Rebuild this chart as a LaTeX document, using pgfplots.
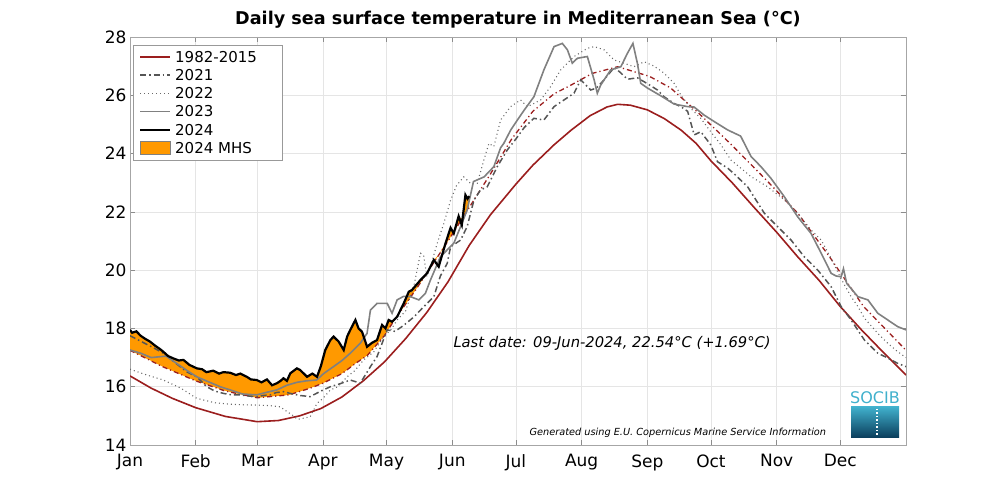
\documentclass[border=0pt]{standalone}
\usepackage{fontspec}
\setmainfont{DejaVu Sans}
\setsansfont{DejaVu Sans}
\usepackage{pgfplots}
\usepackage{pgfplotstable}
\pgfplotsset{compat=1.18}
\usepgfplotslibrary{fillbetween}
\definecolor{climc}{RGB}{155,30,30}
\definecolor{c21}{RGB}{85,85,85}
\definecolor{c22}{RGB}{105,105,105}
\definecolor{c23}{RGB}{128,128,128}
\definecolor{mhs}{RGB}{255,153,0}
\definecolor{socib}{RGB}{64,176,204}
\definecolor{socibdark}{RGB}{10,60,90}
\tikzset{
  climstyle/.style={draw=climc, line width=1.6pt, solid},
  thrstyle/.style={draw=climc, line width=1.3pt, dash pattern=on 5pt off 3pt on 1.2pt off 3pt},
  s21/.style={draw=c21, line width=1.5pt, dash pattern=on 6pt off 3pt on 1.5pt off 3pt},
  s22/.style={draw=c22, line width=1.1pt, dash pattern=on 1pt off 3pt},
  s23/.style={draw=c23, line width=1.6pt, solid},
  s24/.style={draw=black, line width=2.2pt, solid},
}

\pgfplotstableread{
d T
0 16.37
10 15.95
20 15.6
31 15.28
45 14.98
60 14.80
70 14.84
80 15.0
90 15.25
100 15.65
110 16.2
120 16.85
130 17.65
140 18.55
150 19.6
160 20.85
170 21.9
182 22.95
190 23.6
200 24.3
208 24.8
217 25.3
225 25.6
230 25.69
236 25.66
244 25.5
252 25.2
260 24.8
267 24.35
274 23.75
284 23.0
295 22.1
305 21.3
315 20.45
325 19.65
335 18.75
345 17.95
355 17.2
366 16.4
}\climtab

\pgfplotstableread{
d T
0 17.25
15 16.7
31 16.2
45 15.85
60 15.62
75 15.72
85 15.95
91 16.12
100 16.45
106 16.78
112 17.08
120 17.75
125 18.32
135 19.35
150 21.0
160 22.15
170 23.3
180 24.5
190 25.45
200 26.05
208 26.35
218 26.75
230 26.98
245 26.65
255 26.25
268 25.4
283 24.35
300 23.1
315 21.95
330 20.45
346 18.75
356 18.0
366 17.25
}\thrtab

\pgfplotstableread{
d T up thr
0 17.95 17.95 17.25
1 17.85 17.85 17.21
3 17.9 17.9 17.14
5 17.75 17.75 17.07
7 17.65 17.65 16.99
9.4 17.55 17.55 16.91
12 17.4 17.4 16.81
14 17.3 17.3 16.74
15.7 17.2 17.2 16.68
18 17.05 17.05 16.61
20.5 16.97 16.97 16.53
23 16.9 16.9 16.45
25.2 16.92 16.92 16.38
28 16.75 16.75 16.29
31.5 16.63 16.63 16.19
34 16.6 16.6 16.13
36 16.5 16.5 16.08
39.3 16.55 16.55 16.0
42 16.45 16.45 15.93
44 16.5 16.5 15.88
47.2 16.48 16.48 15.82
50 16.4 16.4 15.77
52 16.45 16.45 15.74
55.1 16.34 16.34 15.70
57 16.25 16.25 15.67
59.8 16.23 16.23 15.62
62 16.15 16.15 15.63
64.6 16.25 16.25 15.65
67 16.05 16.05 15.67
69.3 16.12 16.12 15.68
71 16.2 16.2 15.69
72.4 16.29 16.29 15.70
74 16.2 16.2 15.71
75.6 16.46 16.46 15.73
78.7 16.63 16.63 15.81
80.3 16.57 16.57 15.84
83.5 16.34 16.34 15.92
86 16.45 16.45 15.98
88.2 16.34 16.34 16.04
90 16.7 16.7 16.09
92.1 17.26 17.26 16.16
94.5 17.6 17.6 16.25
96 17.72 17.72 16.30
98.4 17.55 17.55 16.39
100.8 17.26 17.26 16.49
102.4 17.72 17.72 16.58
103.9 17.95 17.95 16.66
106.3 18.29 18.29 16.80
107.8 18.0 18.0 16.87
109.4 17.89 17.89 16.95
111 17.55 17.55 17.03
111.8 17.37 17.37 17.07
114 17.5 17.5 17.25
116.5 17.6 17.6 17.46
118.9 18.12 18.12 17.66
120.5 18.0 18.0 17.81
122 18.29 18.29 17.98
123.6 18.23 18.23 18.16
126 18.4 18.42 18.42
129.1 18.86 18.86 18.74
131.5 19.26 19.26 18.99
133 19.32 19.32 19.14
137 19.66 19.66 19.57
140.1 19.89 19.91 19.91
143.3 20.35 20.35 20.26
145.6 20.12 20.52 20.52
148.8 20.92 20.92 20.87
151.2 21.45 21.45 21.14
152.7 21.26 21.31 21.31
155 21.85 21.85 21.58
156.5 21.55 21.75 21.75
158.2 22.58 22.58 21.94
159.2 22.45 22.45 22.06
160 22.54 22.54 22.15
}\yddtab

\pgfplotstableread{
d T
0 17.26
5 17.15
10 17.0
17 17.05
22 16.8
27 16.55
31.5 16.34
36 16.2
42.5 16.0
47.2 15.89
53 15.75
59.8 15.72
64 15.8
69.3 15.89
74 16.05
78.7 16.15
83 16.2
88 16.23
91.3 16.45
96 16.69
100 16.9
103.9 17.15
108.6 17.49
111.8 17.83
113.4 18.63
116.5 18.86
121.3 18.86
123.6 18.52
126 18.98
129 19.1
132.3 19.09
136.2 18.98
139.3 19.2
141.7 19.66
146.4 20.46
152.7 20.92
155.9 21.49
159 22.06
162 23.04
167 23.2
171.6 23.55
174.8 24.2
176.3 24.35
179.5 24.8
182.7 25.15
186 25.5
190.5 25.95
195.2 26.87
200 27.67
203.9 27.78
206.3 27.56
208.6 27.1
211 27.27
215.7 27.33
218.9 26.53
220.4 26.07
222 26.35
226.7 26.87
231.5 26.98
234.6 27.44
237.2 27.78
239.3 27.1
240.9 26.41
244 26.25
250.4 25.98
256.6 25.7
263 25.61
266 25.6
270.8 25.32
275.5 25.1
281.9 24.81
288 24.6
292.9 23.9
297.6 23.55
302.3 23.15
308.6 22.52
314.9 21.83
321.2 21.26
326 20.58
330.7 19.89
333 19.8
335.4 19.77
336.5 20.05
338 19.55
343.3 19.09
348 18.98
352.7 18.52
357.4 18.29
362.1 18.06
366 17.95
}\ycctab

\pgfplotstableread{
d T
0 16.6
8 16.4
15.7 16.23
24 15.95
31.5 15.6
40 15.45
47.2 15.4
53 15.38
59.8 15.37
66 15.35
70.9 15.31
74 15.15
77.1 15.0
79 14.88
82 14.92
85 14.97
88.2 15.43
91 15.6
94.5 15.89
98 16.0
102.4 16.34
106 16.55
110.2 16.92
115 17.2
119.6 17.72
123 17.95
126 18.29
130 18.6
134 19.5
137 20.58
138.5 20.5
140 19.78
142 20.2
144.9 20.92
148 21.6
151.2 22.4
154 22.9
157.4 23.2
160.6 22.98
163.8 22.98
166.9 23.78
169.3 24.35
171.6 24.24
174.8 25.15
179.5 25.61
184.2 25.84
187.4 25.61
190 25.7
193.7 25.84
198.4 26.3
203.1 26.87
209.4 27.33
215.7 27.61
218.9 27.67
223.6 27.56
228.3 27.21
233 27.1
237.7 26.98
242.5 27.15
247.2 27.0
251.9 26.76
256.6 26.41
259.8 26.01
264.5 25.55
269.2 25.21
273.9 24.75
278.7 24.3
283.4 23.78
292.9 23.21
300.7 22.86
308.6 22.41
314.9 21.95
321.2 21.38
326 21.03
330.7 20.4
335.4 19.7
340.1 19.09
343.3 18.75
346.4 18.35
352.7 17.83
357.4 17.49
362.1 17.2
366 17.0
}\ybbtab

\pgfplotstableread{
d T
0 17.75
4 17.6
8 17.45
12 17.3
15.7 17.15
20 16.9
23.6 16.69
27 16.5
31.5 16.34
36.2 16.0
40 15.85
44.1 15.77
48 15.72
52 15.72
56 15.68
59.8 15.66
63 15.7
66.1 15.72
69 15.8
72.4 15.83
75.6 15.77
80 15.7
85 15.66
90 15.85
94.5 16.0
99 16.1
103.9 16.23
108.6 16.12
113.4 16.69
116.5 17.03
121.3 17.95
125 17.9
129 18.1
134 18.4
138.6 18.75
143.3 19.09
146.4 19.8
149.6 20.23
151.2 20.8
155.9 21.03
159 21.49
162.2 22.4
165.3 22.75
168.5 22.86
173.2 23.55
177.9 24.12
182 24.5
186 24.9
190.5 25.21
195.2 25.15
200 25.61
204.7 25.84
209.4 26.07
212.6 26.53
217.3 26.18
220 26.25
223.6 26.53
228.3 26.95
231 26.8
234.6 26.55
239.3 26.6
244 26.4
248.8 26.18
251.9 25.95
256.6 25.72
260 25.6
263 25.45
266.1 24.64
269.2 24.75
273.9 24.3
277.1 23.72
281.9 23.5
285 23.3
291.3 22.86
299.2 21.95
305.5 21.49
311.8 21.03
318 20.46
324.4 20.0
330.7 19.43
335.4 18.75
340.1 18.29
346.4 17.6
352.7 17.15
357 17.0
362.1 16.8
366 16.69
}\yaatab

\begin{document}
\begin{tikzpicture}
\begin{axis}[
  at={(130pt,55pt)}, anchor=south west,
  scale only axis, width=776pt, height=408pt,
  xmin=0, xmax=366, ymin=14, ymax=28,
  xtick={0,31,60,91,121,152,182,213,244,274,305,335},
  xticklabels={Jan,Feb,Mar,Apr,May,Jun,Jul,Aug,Sep,Oct,Nov,Dec},
  ytick={14,16,18,20,22,24,26,28},
  grid=major,
  major grid style={draw=black!10, line width=0.6pt},
  axis line style={draw=black!35, line width=0.8pt},
  tick style={draw=black!45, line width=0.6pt},
  major tick length=5pt,
  tick label style={font=\fontsize{17}{20}\selectfont},
  xticklabel style={yshift=-6pt},
  /pgf/number format/assume math mode=true,
]
\addplot[name path=U, draw=none, forget plot] table[x=d,y=up]{\yddtab};
\addplot[name path=L, draw=none, forget plot] table[x=d,y=thr]{\yddtab};
\addplot[fill=mhs, draw=none, forget plot] fill between[of=U and L];
\addplot[thrstyle, forget plot] table[x=d,y=T]{\thrtab};
\addplot[climstyle, forget plot] table[x=d,y=T]{\climtab};
\addplot[s21, forget plot] table[x=d,y=T]{\yaatab};
\addplot[s22, forget plot] table[x=d,y=T]{\ybbtab};
\addplot[s23, forget plot] table[x=d,y=T]{\ycctab};
\addplot[s24, forget plot] table[x=d,y=T]{\yddtab};
\end{axis}
% legend
\draw[draw=black!40, fill=white, line width=0.8pt] (133pt,455pt) rectangle (282pt,340pt);
\draw[climstyle] (140pt,443pt) -- (170pt,443pt);
\draw[s21] (140pt,424.8pt) -- (170pt,424.8pt);
\draw[s22] (140pt,406.6pt) -- (170pt,406.6pt);
\draw[s23] (140pt,388.4pt) -- (170pt,388.4pt);
\draw[s24] (140pt,370.2pt) -- (170pt,370.2pt);
\draw[fill=mhs, draw=black!50, line width=0.8pt] (140pt,345.5pt) rectangle (170pt,358.5pt);
\begin{scope}[every node/.style={anchor=base west, inner sep=0pt, font=\fontsize{15}{17.5}\selectfont}]
\node at (175pt,437.6pt) {1982-2015};
\node at (175pt,419.4pt) {2021};
\node at (175pt,401.2pt) {2022};
\node at (175pt,383.0pt) {2023};
\node at (175pt,364.8pt) {2024};
\node at (175pt,346.6pt) {2024 MHS};
\end{scope}
\node[font=\bfseries\fontsize{17.6}{20}\selectfont] at (518pt,480pt) {Daily sea surface temperature in Mediterranean Sea (°C)};
\node[anchor=west, font=\itshape\fontsize{14.7}{17}\selectfont] at (450pt,157pt) {Last date: 09-Jun-2024, 22.54°C (+1.69°C)};
\node[anchor=west, font=\itshape\fontsize{9.75}{11}\selectfont] at (526pt,67pt) {Generated using E.U. Copernicus Marine Service Information};
\node[text=socib, font=\fontsize{16}{16}\selectfont, inner sep=0pt] at (875pt,102pt) {SOCIB};
\shade[top color=socib, bottom color=socibdark] (851pt,62pt) rectangle (899pt,93pt);
\draw[white, line width=1.2pt, dash pattern=on 1.5pt off 2pt] (877pt,91pt) -- (877pt,64pt);
\path (0,0) rectangle (1000pt,500pt);
\end{tikzpicture}
\end{document}
